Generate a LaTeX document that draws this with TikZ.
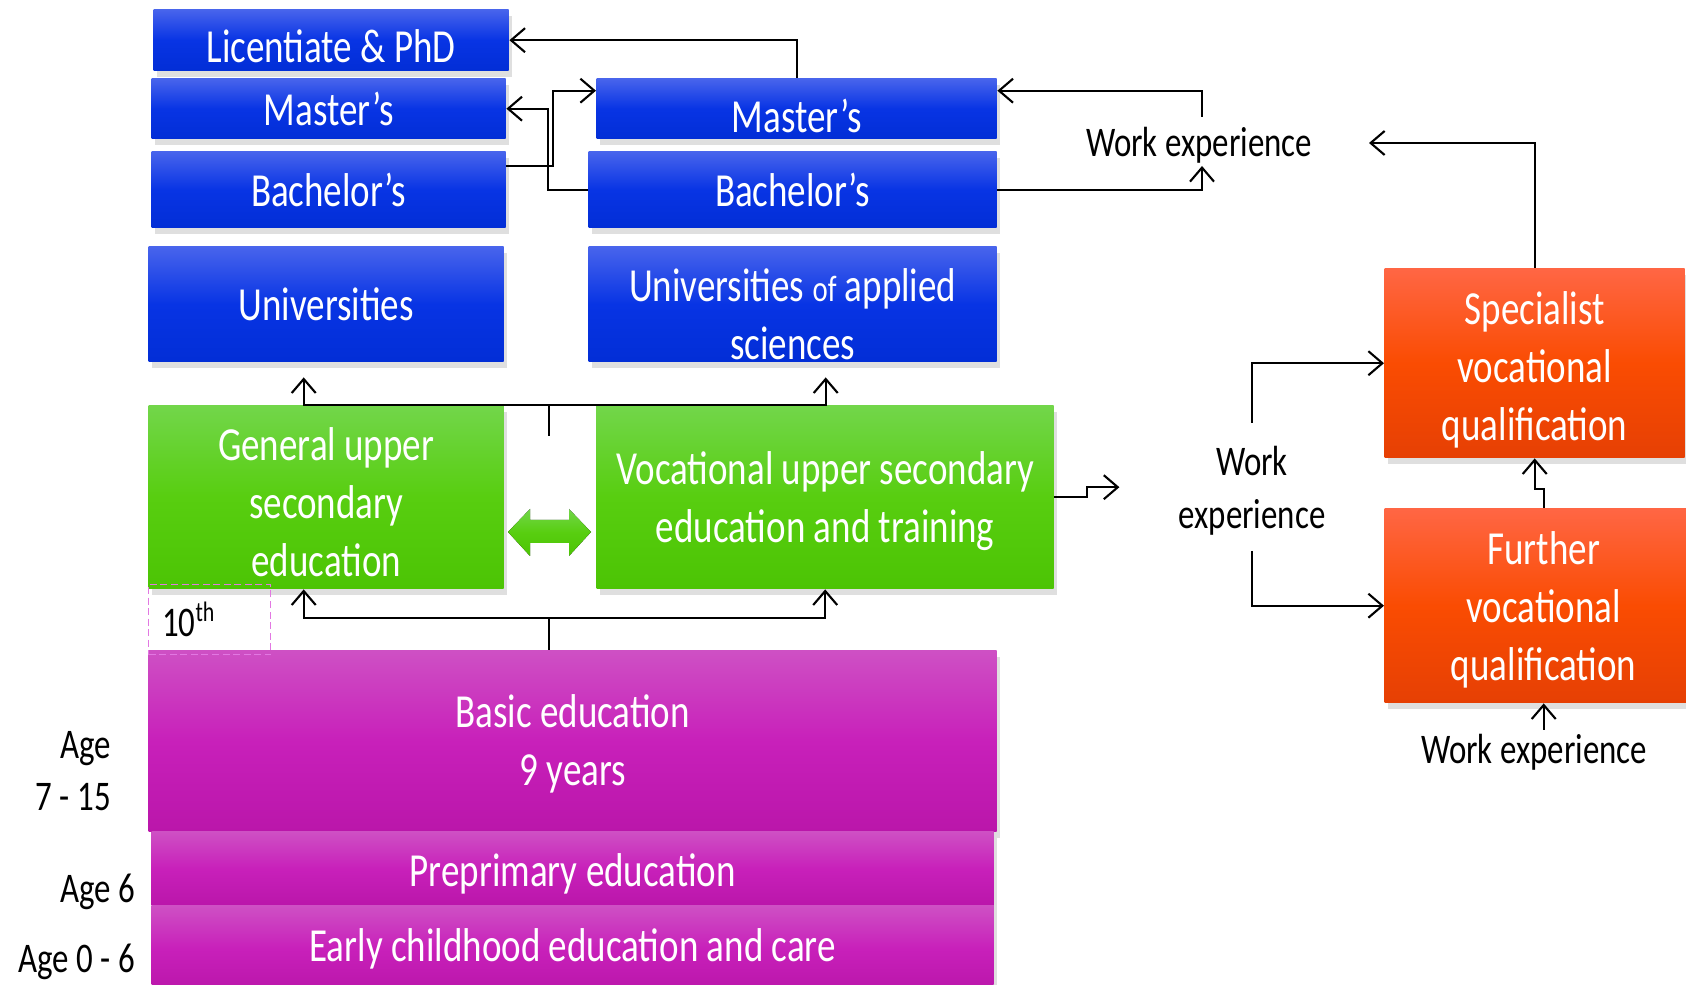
\documentclass[tikz,border=0pt]{standalone}
\usepackage{fontspec}
\setmainfont{Carlito}[FakeStretch=0.78]
\usetikzlibrary{arrows.meta,shadows}

\definecolor{uniTop}{RGB}{72,100,236}
\definecolor{uniMid}{RGB}{8,52,228}
\definecolor{uniBot}{RGB}{2,46,214}
\definecolor{secTop}{RGB}{114,214,74}
\definecolor{secMid}{RGB}{88,206,16}
\definecolor{secBot}{RGB}{76,196,4}
\definecolor{basTop}{RGB}{206,80,196}
\definecolor{basMid}{RGB}{200,32,186}
\definecolor{basBot}{RGB}{186,22,170}
\definecolor{vocTop}{RGB}{255,102,68}
\definecolor{vocMid}{RGB}{250,76,2}
\definecolor{vocBot}{RGB}{230,64,4}
\definecolor{tenthLine}{RGB}{226,120,226}

% extra room above the first line, pushes the text down in its box
\newcommand{\topRoom}[1]{\rule{0pt}{#1}}

\tikzset{
    eduBox/.style={rectangle, anchor=north west, inner sep=0pt, align=center,
        text=white, font=\fontsize{13.5}{16.5}\selectfont,
        drop shadow={shadow xshift=0.3mm, shadow yshift=-0.6mm, opacity=0.25}},
    uniBox/.style={eduBox, top color=uniTop, bottom color=uniBot, middle color=uniMid},
    secBox/.style={eduBox, top color=secTop, bottom color=secBot, middle color=secMid},
    basBox/.style={eduBox, top color=basTop, bottom color=basBot, middle color=basMid},
    vocBox/.style={eduBox, top color=vocTop, bottom color=vocBot, middle color=vocMid},
    plainText/.style={inner sep=1pt, align=center, font=\fontsize{12}{15}\selectfont},
    arr/.style={-{Straight Barb[length=1.4mm,width=2.4mm]}, line width=0.6pt},
}

\begin{document}
\begin{tikzpicture}
    \useasboundingbox (0,0) rectangle (16.86,-9.85);
    \fill[white] (0,0) rectangle (16.86,-9.85);

    % Universities
    \node[uniBox, minimum width=3.55cm, minimum height=0.61cm] (lic) at (1.53,-0.09) {\topRoom{13pt}Licentiate \& PhD};
    \node[uniBox, minimum width=3.54cm, minimum height=0.60cm] (mastU) at (1.51,-0.78) {Master’s};
    \node[uniBox, minimum width=3.54cm, minimum height=0.76cm] (bachU) at (1.51,-1.51) {Bachelor’s};
    \node[uniBox, minimum width=3.55cm, minimum height=1.15cm] (univ) at (1.48,-2.46) {Universities};

    % Universities of applied sciences
    \node[uniBox, minimum width=4.00cm, minimum height=0.60cm] (mastA) at (5.96,-0.78) {\topRoom{13.6pt}Master’s};
    \node[uniBox, minimum width=4.08cm, minimum height=0.76cm] (bachA) at (5.88,-1.51) {Bachelor’s};
    \node[uniBox, minimum width=4.08cm, minimum height=1.15cm] (uas) at (5.88,-2.46) {\topRoom{15pt}Universities {\fontsize{10.5}{12}\selectfont of} applied\\sciences};

    % Upper secondary
    \node[secBox, minimum width=3.55cm, minimum height=1.83cm] (gen) at (1.48,-4.05) {\topRoom{12.4pt}General upper\\secondary\\education};
    \node[secBox, minimum width=4.57cm, minimum height=1.83cm] (voc) at (5.96,-4.05) {\topRoom{11.8pt}Vocational upper secondary\\education and training};

    % Basic level
    \node[basBox, minimum width=8.48cm, minimum height=1.81cm] (basic) at (1.48,-6.50) {\topRoom{11.1pt}Basic education\\9 years};
    \node[basBox, minimum width=8.42cm, minimum height=0.74cm] (prep) at (1.51,-8.31) {\topRoom{12.4pt}Preprimary education};
    \node[basBox, minimum width=8.42cm, minimum height=0.86cm] (early) at (1.51,-9.05) {Early childhood education and care};

    % Vocational qualifications
    \node[vocBox, minimum width=3.00cm, minimum height=1.89cm] (spec) at (13.84,-2.68) {\topRoom{13pt}Specialist\\vocational\\qualification};
    \node[vocBox, minimum width=3.18cm, minimum height=1.94cm] (furt) at (13.84,-5.08) {\topRoom{11.8pt}Further\\vocational\\qualification};

    % 10th grade
    \node[draw=tenthLine, dash pattern=on 2pt off 1pt, line width=0.4pt,
        minimum width=1.22cm, minimum height=0.70cm, anchor=north west] (tenth) at (1.48,-5.84) {};
    \node[plainText, anchor=west] (tenthTxt) at ([xshift=1mm]tenth.west) {10\textsuperscript{th}};

    % Labels
    \node[plainText] (weTop) at (11.99,-1.45) {Work experience};
    \node[plainText] (weMid) at (12.52,-4.91) {Work\\experience};
    \node[plainText] (weBot) at (15.34,-7.52) {Work experience};
    \node[plainText, align=right, anchor=east] (age715) at (1.15,-7.71) {Age\\7 - 15};
    \node[plainText, anchor=east] (age6) at (1.39,-8.92) {Age 6};
    \node[plainText, anchor=east] (age06) at (1.39,-9.62) {Age 0 - 6};

    % Degree paths
    \draw[arr] (mastA.north) |- (lic.east);
    \draw[arr] ([yshift=2.4mm]bachU.east) -- ++(0.47,0) |- ([yshift=1.8mm]mastA.west);
    \draw[arr] (bachA.west) -- ++(-0.40,0) |- (mastU.east);

    % Work experience
    \draw[arr] ([xshift=0.3mm,yshift=2.8mm]weTop.center) |- ([yshift=1.8mm]mastA.east);
    \draw[arr] (bachA.east) -| ([xshift=0.3mm,yshift=-2.1mm]weTop.center);
    \draw[arr] (spec.north) |- ([xshift=1.7cm,yshift=0.2mm]weTop.center);
    \draw[arr] (voc.east) -- ++(0.33,0) -- ++(0,0.10) -- ++(0.32,0);
    \draw[arr] ([yshift=6.8mm]weMid.center) |- (spec.west);
    \draw[arr] ([yshift=-6.0mm]weMid.center) |- (furt.west);
    \draw[arr] (furt.north) -- ++(0,0.19) -| (spec.south);
    \draw[arr] (furt.south |- weBot.north) -- (furt.south);

    % Into higher education
    \coordinate (upSplit) at (5.49,-4.05);
    \draw[line width=0.6pt] (upSplit) -- ++(0,-0.31);
    \draw[arr] (upSplit) -| ([xshift=-2.25mm,yshift=-1.5mm]univ.south);
    \draw[arr] (upSplit) -| ([xshift=3.3mm,yshift=-1.5mm]uas.south);

    % Into upper secondary
    \coordinate (dnSplit) at (5.49,-6.18);
    \draw[line width=0.6pt] (basic.north -| dnSplit) -- (dnSplit);
    \draw[arr] (dnSplit) -| ([xshift=-2.25mm]gen.south);
    \draw[arr] (dnSplit) -| (voc.south);

    % Switching between tracks
    \coordinate (swap) at (5.495,-5.32);
    \fill[top color=secTop, bottom color=secBot, middle color=secMid]
        (swap) ++(-0.415,0) -- ++(0.22,0.23) -- ++(0,-0.11) -- ++(0.39,0)
        -- ++(0,0.11) -- ++(0.22,-0.23) -- ++(-0.22,-0.24) -- ++(0,0.13)
        -- ++(-0.39,0) -- ++(0,-0.13) -- cycle;
\end{tikzpicture}
\end{document}
